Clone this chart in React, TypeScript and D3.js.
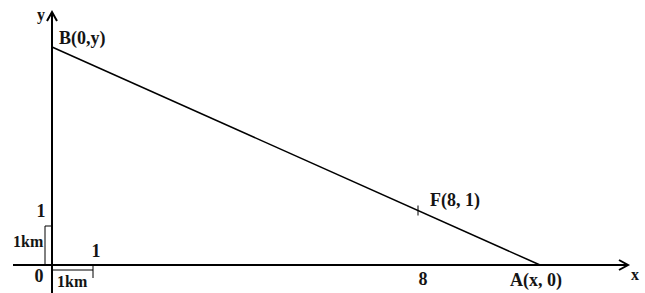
import React from "react";
import * as d3 from "d3";

// Diagram values (schematic, in km units)
const xKnots = [0, 1, 8, 10.7];
const yKnots = [0, 1, 5.6];
const pointNames = ["B(0,y)", "F(8, 1)", "A(x, 0)"];
const lineEnds = [
  { x: 0, y: 5.6 },
  { x: 10.7, y: 0 },
];
const fX = 8;
const axisLabels = ["x", "y"];
const tickLabels = ["0", "1", "8"];
const unitLabel = "1km";

const W = 645;
const H = 293;

export default function App() {
  const x = d3.scaleLinear().domain(xKnots).range([52, 93, 418, 540]);
  const y = d3.scaleLinear().domain(yKnots).range([265, 226, 47]);
  const x0 = x(0);
  const y0 = y(0);
  const bx = x(lineEnds[0].x), by = y(lineEnds[0].y);
  const ax = x(lineEnds[1].x), ay = y(lineEnds[1].y);
  const fx = x(fX);
  const fy = by + ((fx - bx) / (ax - bx)) * (ay - by);
  const line = d3.line<{ x: number; y: number }>().x((d) => x(d.x)).y((d) => y(d.y));
  const font = "'Liberation Serif', 'Times New Roman', serif";
  const tcol = "#141414";
  const ts = { fontFamily: font, fontWeight: 700, fontSize: 16, fill: tcol } as const;
  const ps = { ...ts, fontSize: 18 } as const;

  return (
    <svg width={W} height={H} style={{ position: "absolute", left: 0, top: 0, background: "#fff" }}>
      {/* axes */}
      <line x1={13} y1={y0} x2={628} y2={y0} stroke="#000" strokeWidth={2} />
      <line x1={x0} y1={293} x2={x0} y2={12} stroke="#000" strokeWidth={2} />
      {/* arrowheads */}
      <path d={`M${x0 - 5},${21} L${x0},${12} L${x0 + 5},${21}`} fill="none" stroke="#000" strokeWidth={2} />
      <path d={`M${619},${y0 - 5} L${628},${y0} L${619},${y0 + 5}`} fill="none" stroke="#000" strokeWidth={2} />
      {/* unit brackets */}
      <path d={`M${x0},${y(1)} L${x0 - 7},${y(1)} L${x0 - 7},${y0}`} fill="none" stroke="#000" strokeWidth={1} />
      <path d={`M${x0},${y0 + 5} L${x(1)},${y0 + 5}`} fill="none" stroke="#000" strokeWidth={1} />
      <path d={`M${x(1)},${y0} L${x(1)},${y0 + 13}`} fill="none" stroke="#000" strokeWidth={1} />
      {/* line AB */}
      <path d={line(lineEnds) || ""} fill="none" stroke="#000" strokeWidth={1.5} />
      {/* F tick */}
      <line x1={fx} y1={fy - 5} x2={fx} y2={fy + 5} stroke="#000" strokeWidth={1} />
      {/* labels */}
      <text x={37} y={20} {...ts}>{axisLabels[1]}</text>
      <text x={631} y={280} {...ts}>{axisLabels[0]}</text>
      <text x={59} y={44} {...ps}>{pointNames[0]}</text>
      <text x={430} y={206} {...ps}>{pointNames[1]}</text>
      <text x={510} y={286} {...ps}>{pointNames[2]}</text>
      <text x={fx + 5} y={285} textAnchor="middle" {...ps}>{tickLabels[2]}</text>
      <text x={39} y={282} textAnchor="middle" {...ps}>{tickLabels[0]}</text>
      <text x={41} y={217} textAnchor="middle" {...ps}>{tickLabels[1]}</text>
      <text x={x(1) + 3} y={257} textAnchor="middle" {...ps}>{tickLabels[1]}</text>
      <text x={13} y={247} {...ts}>{unitLabel}</text>
      <text x={57} y={287} {...ts}>{unitLabel}</text>
    </svg>
  );
}
